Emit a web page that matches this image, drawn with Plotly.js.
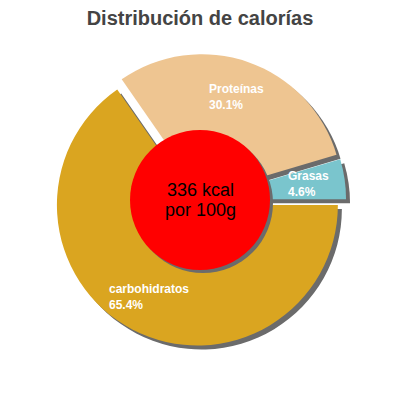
<!DOCTYPE html>
<html>
<head>
<meta charset="utf-8">
<script src="https://cdn.plot.ly/plotly-3.0.1.min.js"></script>
<style>
  html, body { margin: 0; padding: 0; background: #fff; }
  #chart { width: 400px; height: 400px; }
</style>
</head>
<body>
<div id="chart"></div>
<script>
// calorie split, percent of total
const labels = ['carbohidratos', 'Proteínas', 'Grasas'];
const values = [65.4, 30.1, 4.6];
const sliceColors = ['#DAA520', '#EEC591', '#7AC5CD'];
const pulls = [0.04, 0.04, 0.04];
const centerText = ['336 kcal', 'por 100g'];

const W = 400, H = 400;
const pieDomain = { x: [0.13475, 0.86525], y: [0.13475, 0.86525] };
const shadowDomain = { x: [0.14475, 0.87525], y: [0.12475, 0.85525] };
const FONT = 'Liberation Sans, Arial, sans-serif';

const common = {
  type: 'pie',
  labels: labels,
  values: values,
  pull: pulls,
  sort: false,
  direction: 'clockwise',
  rotation: 90,
  hoverinfo: 'skip',
  showlegend: false,
  textinfo: 'none',
};

// grey copy underneath acts as drop shadow
const shadow = Object.assign({}, common, {
  domain: shadowDomain,
  marker: { colors: labels.map(() => '#6b6b6b'), line: { width: 0 } },
});

const slices = Object.assign({}, common, {
  domain: pieDomain,
  marker: { colors: sliceColors, line: { width: 0 } },
});

// slice labels: placed along each slice's middle angle, in the outer band
const total = values.reduce((a, b) => a + b, 0);
const cx = (pieDomain.x[0] + pieDomain.x[1]) / 2 * W;
const cy = (1 - (pieDomain.y[0] + pieDomain.y[1]) / 2) * H;
const radius = (pieDomain.x[1] - pieDomain.x[0]) * W / 2 / (1 + Math.max(...pulls));
let start = 0;
const sliceLabels = labels.map((lab, i) => {
  const mid = (start + values[i] / 2) / total * 2 * Math.PI; // clockwise from 3 o'clock
  start += values[i];
  const r = (0.74 + pulls[i]) * radius;
  return {
    text: '<b>' + lab + '<br>' + values[i].toFixed(1) + '%</b>',
    xref: 'paper', yref: 'paper',
    x: (cx + r * Math.cos(mid)) / W,
    y: 1 - (cy + r * Math.sin(mid)) / H,
    xanchor: 'center', yanchor: 'middle',
    align: 'left',
    showarrow: false,
    font: { family: FONT, size: 12, color: '#ffffff' },
  };
});

const centerLabels = centerText.map((t, i) => ({
  text: t,
  xref: 'paper', yref: 'paper',
  x: 0.5, y: 0.5,
  yshift: (i === 0 ? 10 : -10),
  showarrow: false,
  font: { family: FONT, size: 18, color: '#000000' },
}));

const layout = {
  width: W,
  height: H,
  margin: { l: 0, r: 0, t: 0, b: 0 },
  paper_bgcolor: '#ffffff',
  title: {
    text: '<b>Distribución de calorías</b>',
    font: { family: FONT, size: 20, color: '#444444' },
    x: 0.5,
    xanchor: 'center',
    y: 0.955,
    yanchor: 'middle',
  },
  shapes: [
    {
      type: 'circle', xref: 'paper', yref: 'paper',
      x0: 0.3325, x1: 0.6825, y0: 0.3175, y1: 0.6675,
      fillcolor: '#6b6b6b', line: { width: 0 },
    },
    {
      type: 'circle', xref: 'paper', yref: 'paper',
      x0: 0.325, x1: 0.675, y0: 0.325, y1: 0.675,
      fillcolor: '#ff0000', line: { width: 0 },
    },
  ],
  annotations: sliceLabels.concat(centerLabels),
};

Plotly.newPlot('chart', [shadow, slices], layout, { staticPlot: true });
</script>
</body>
</html>
